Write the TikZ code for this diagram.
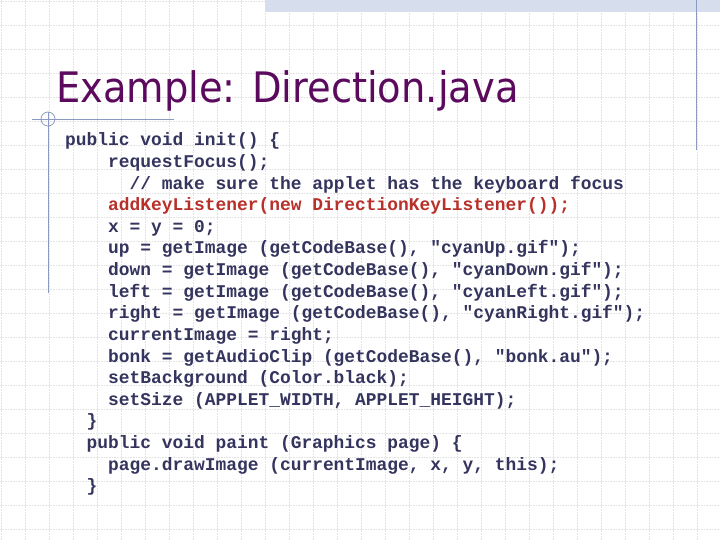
\documentclass[tikz,border=0pt]{standalone}
\usepackage{fontspec}
\setmonofont{Liberation Mono}
\setsansfont{DejaVu Sans}
\definecolor{codec}{HTML}{34345E}
\definecolor{redc}{HTML}{B8302A}
\definecolor{titc}{HTML}{5C0A5E}
\definecolor{linec}{HTML}{8A9AC0}
\definecolor{gridc}{HTML}{E2E2E2}
\definecolor{bandc}{HTML}{D6DDEC}
\begin{document}
\begin{tikzpicture}[x=1pt,y=-1pt,
  code/.style={anchor=base west,inner sep=0pt,font=\ttfamily\bfseries\fontsize{17.9}{20}\selectfont,text=codec}]
\useasboundingbox (0,0) rectangle (720,540);
\fill[white] (0,0) rectangle (720,540);
\foreach \i in {0,...,30} \draw[gridc,densely dotted,line width=0.6pt] (\i*24+1,0) -- (\i*24+1,540);
\foreach \j in {0,...,22} \draw[gridc,densely dotted,line width=0.6pt] (0,\j*24+1) -- (720,\j*24+1);
\fill[bandc] (265,0) rectangle (720,12);
\draw[linec,line width=0.8pt] (696,0) -- (696,150);
\draw[linec,line width=0.8pt] (32,119) -- (174,119);
\draw[linec,line width=0.8pt] (48,112) -- (48,293);
\draw[linec,line width=0.8pt] (48,119) circle (7);
\node[anchor=base west,inner sep=0pt,font=\sffamily\fontsize{42}{44}\selectfont,text=titc,xscale=0.915] (title) at (56,103) {Example: Direction.java};
\def\cw{10.75}
\def\ls{21.6}
\node[code] (l1) at (65,146) {public void init() \{};
\node[code] (l2) at (65+4*\cw,146+\ls) {requestFocus();};
\node[code] (l3) at (65+6*\cw,146+2*\ls) {// make sure the applet has the keyboard focus};
\node[code,text=redc] (l4) at (65+4*\cw,146+3*\ls) {addKeyListener(new DirectionKeyListener());};
\node[code] (l5) at (65+4*\cw,146+4*\ls) {x = y = 0;};
\node[code] (l6) at (65+4*\cw,146+5*\ls) {up = getImage (getCodeBase(), "cyanUp.gif");};
\node[code] (l7) at (65+4*\cw,146+6*\ls) {down = getImage (getCodeBase(), "cyanDown.gif");};
\node[code] (l8) at (65+4*\cw,146+7*\ls) {left = getImage (getCodeBase(), "cyanLeft.gif");};
\node[code] (l9) at (65+4*\cw,146+8*\ls) {right = getImage (getCodeBase(), "cyanRight.gif");};
\node[code] (l10) at (65+4*\cw,146+9*\ls) {currentImage = right;};
\node[code] (l11) at (65+4*\cw,146+10*\ls) {bonk = getAudioClip (getCodeBase(), "bonk.au");};
\node[code] (l12) at (65+4*\cw,146+11*\ls) {setBackground (Color.black);};
\node[code] (l13) at (65+4*\cw,146+12*\ls) {setSize (APPLET\_WIDTH, APPLET\_HEIGHT);};
\node[code] (l14) at (65+2*\cw,146+13*\ls) {\}};
\node[code] (l15) at (65+2*\cw,146+14*\ls) {public void paint (Graphics page) \{};
\node[code] (l16) at (65+4*\cw,146+15*\ls) {page.drawImage (currentImage, x, y, this);};
\node[code] (l17) at (65+2*\cw,146+16*\ls) {\}};
\end{tikzpicture}
\end{document}
